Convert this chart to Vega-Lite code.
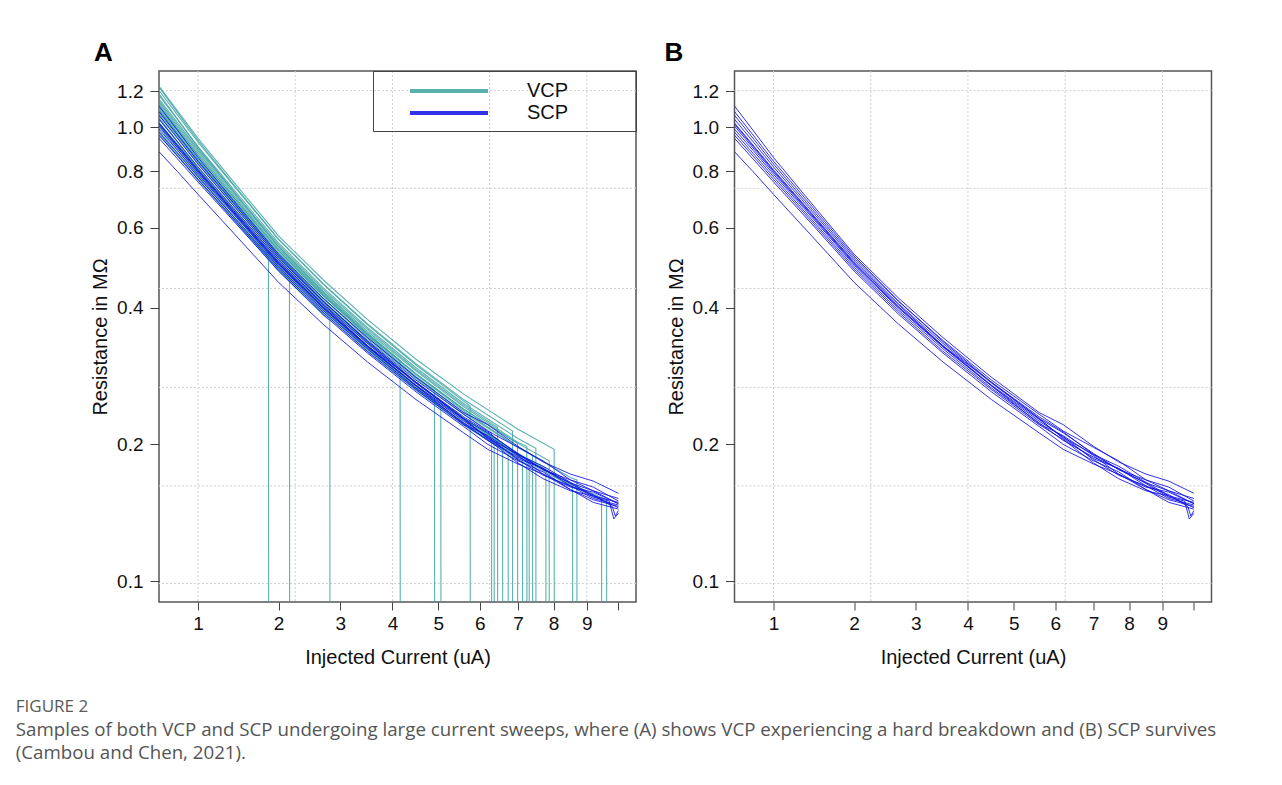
{
  "$schema": "https://vega.github.io/schema/vega-lite/v6.json",
  "background": "white",
  "padding": {"left": 15, "top": 38, "right": 5, "bottom": 5},
  "config": {
    "font": "Liberation Sans",
    "view": {"stroke": "#555", "strokeWidth": 1.5},
    "axis": {"labelFont": "Liberation Sans", "titleFont": "Liberation Sans", "labelFontSize": 19, "titleFontSize": 20, "titleFontWeight": "normal", "labelColor": "#111", "titleColor": "#111", "tickColor": "#444", "domain": false, "grid": false}
  },
  "datasets": {
    "gv": [{"I": 1}, {"I": 2.25}, {"I": 4}, {"I": 6.25}, {"I": 9}],
    "gh": [{"R": 0.0987}, {"R": 0.162}, {"R": 0.267}, {"R": 0.441}, {"R": 0.733}, {"R": 1.203}],
    "scp": [
      {"c":"S1","I":0.64,"R":1.112},{"c":"S1","I":0.8,"R":0.984},{"c":"S1","I":1,"R":0.857},{"c":"S1","I":1.4,"R":0.689},{"c":"S1","I":2,"R":0.525},{"c":"S1","I":2.7,"R":0.42},{"c":"S1","I":3.5,"R":0.344},{"c":"S1","I":4.5,"R":0.281},{"c":"S1","I":5.6,"R":0.235},{"c":"S1","I":6.2,"R":0.221},{"c":"S1","I":7,"R":0.198},{"c":"S1","I":7.7,"R":0.183},{"c":"S1","I":8.5,"R":0.172},{"c":"S1","I":9.2,"R":0.166},{"c":"S1","I":10,"R":0.156},
      {"c":"S2","I":0.64,"R":1.061},{"c":"S2","I":0.8,"R":0.945},{"c":"S2","I":1,"R":0.829},{"c":"S2","I":1.4,"R":0.671},{"c":"S2","I":2,"R":0.515},{"c":"S2","I":2.7,"R":0.413},{"c":"S2","I":3.5,"R":0.339},{"c":"S2","I":4.5,"R":0.277},{"c":"S2","I":5.6,"R":0.233},{"c":"S2","I":6.2,"R":0.214},{"c":"S2","I":7,"R":0.197},{"c":"S2","I":7.7,"R":0.184},{"c":"S2","I":8.5,"R":0.167},{"c":"S2","I":9.2,"R":0.158},{"c":"S2","I":10,"R":0.152},
      {"c":"S3","I":0.64,"R":1.02},{"c":"S3","I":0.8,"R":0.913},{"c":"S3","I":1,"R":0.805},{"c":"S3","I":1.4,"R":0.655},{"c":"S3","I":2,"R":0.505},{"c":"S3","I":2.7,"R":0.406},{"c":"S3","I":3.5,"R":0.33},{"c":"S3","I":4.5,"R":0.274},{"c":"S3","I":5.6,"R":0.23},{"c":"S3","I":6.2,"R":0.213},{"c":"S3","I":7,"R":0.19},{"c":"S3","I":7.7,"R":0.176},{"c":"S3","I":8.5,"R":0.167},{"c":"S3","I":9.2,"R":0.161},{"c":"S3","I":10,"R":0.15},
      {"c":"S4","I":0.64,"R":1.005},{"c":"S4","I":0.8,"R":0.9},{"c":"S4","I":1,"R":0.795},{"c":"S4","I":1.4,"R":0.648},{"c":"S4","I":2,"R":0.5},{"c":"S4","I":2.7,"R":0.401},{"c":"S4","I":3.5,"R":0.33},{"c":"S4","I":4.5,"R":0.27},{"c":"S4","I":5.6,"R":0.227},{"c":"S4","I":6.2,"R":0.207},{"c":"S4","I":7,"R":0.19},{"c":"S4","I":7.7,"R":0.179},{"c":"S4","I":8.5,"R":0.165},{"c":"S4","I":9.2,"R":0.154},{"c":"S4","I":10,"R":0.149},
      {"c":"S5","I":0.64,"R":0.989},{"c":"S5","I":0.8,"R":0.889},{"c":"S5","I":1,"R":0.787},{"c":"S5","I":1.4,"R":0.643},{"c":"S5","I":2,"R":0.497},{"c":"S5","I":2.7,"R":0.399},{"c":"S5","I":3.5,"R":0.328},{"c":"S5","I":4.5,"R":0.269},{"c":"S5","I":5.6,"R":0.222},{"c":"S5","I":6.2,"R":0.209},{"c":"S5","I":7,"R":0.189},{"c":"S5","I":7.7,"R":0.172},{"c":"S5","I":8.5,"R":0.161},{"c":"S5","I":9.2,"R":0.157},{"c":"S5","I":10,"R":0.148},
      {"c":"S6","I":0.64,"R":0.974},{"c":"S6","I":0.8,"R":0.876},{"c":"S6","I":1,"R":0.777},{"c":"S6","I":1.4,"R":0.635},{"c":"S6","I":2,"R":0.492},{"c":"S6","I":2.7,"R":0.395},{"c":"S6","I":3.5,"R":0.325},{"c":"S6","I":4.5,"R":0.266},{"c":"S6","I":5.6,"R":0.223},{"c":"S6","I":6.2,"R":0.204},{"c":"S6","I":7,"R":0.1875},{"c":"S6","I":7.7,"R":0.177},{"c":"S6","I":8.5,"R":0.162},{"c":"S6","I":9.2,"R":0.152},{"c":"S6","I":10,"R":0.147},
      {"c":"S7","I":0.64,"R":0.959},{"c":"S7","I":0.8,"R":0.864},{"c":"S7","I":1,"R":0.767},{"c":"S7","I":1.4,"R":0.628},{"c":"S7","I":2,"R":0.487},{"c":"S7","I":2.7,"R":0.391},{"c":"S7","I":3.5,"R":0.321},{"c":"S7","I":4.5,"R":0.264},{"c":"S7","I":5.6,"R":0.221},{"c":"S7","I":6.2,"R":0.205},{"c":"S7","I":7,"R":0.182},{"c":"S7","I":7.7,"R":0.168},{"c":"S7","I":8.5,"R":0.158},{"c":"S7","I":9.2,"R":0.154},{"c":"S7","I":10,"R":0.145},
      {"c":"S8","I":0.64,"R":0.944},{"c":"S8","I":0.8,"R":0.851},{"c":"S8","I":1,"R":0.757},{"c":"S8","I":1.4,"R":0.621},{"c":"S8","I":2,"R":0.482},{"c":"S8","I":2.7,"R":0.387},{"c":"S8","I":3.5,"R":0.318},{"c":"S8","I":4.5,"R":0.261},{"c":"S8","I":5.6,"R":0.219},{"c":"S8","I":6.2,"R":0.2},{"c":"S8","I":7,"R":0.184},{"c":"S8","I":7.7,"R":0.174},{"c":"S8","I":8.5,"R":0.159},{"c":"S8","I":9.2,"R":0.149},{"c":"S8","I":10,"R":0.144},
      {"c":"S9","I":0.64,"R":1.04},{"c":"S9","I":0.8,"R":0.929},{"c":"S9","I":1,"R":0.817},{"c":"S9","I":1.4,"R":0.663},{"c":"S9","I":2,"R":0.51},{"c":"S9","I":2.7,"R":0.408},{"c":"S9","I":3.5,"R":0.334},{"c":"S9","I":4.5,"R":0.273},{"c":"S9","I":5.6,"R":0.228},{"c":"S9","I":6.2,"R":0.212},{"c":"S9","I":7,"R":0.191},{"c":"S9","I":7.7,"R":0.176},{"c":"S9","I":8.5,"R":0.1645},{"c":"S9","I":9.2,"R":0.158},{"c":"S9","I":10,"R":0.148},
      {"c":"S10","I":0.64,"R":0.882},{"c":"S10","I":0.8,"R":0.798},{"c":"S10","I":1,"R":0.711},{"c":"S10","I":1.4,"R":0.584},{"c":"S10","I":2,"R":0.455},{"c":"S10","I":2.7,"R":0.368},{"c":"S10","I":3.5,"R":0.304},{"c":"S10","I":4.5,"R":0.251},{"c":"S10","I":5.6,"R":0.212},{"c":"S10","I":6.2,"R":0.195},{"c":"S10","I":7,"R":0.181},{"c":"S10","I":7.7,"R":0.172},{"c":"S10","I":8.5,"R":0.159},{"c":"S10","I":9.2,"R":0.151},{"c":"S10","I":10,"R":0.146},
      {"c":"S11","I":0.64,"R":1.015},{"c":"S11","I":0.8,"R":0.908},{"c":"S11","I":1,"R":0.801},{"c":"S11","I":1.4,"R":0.652},{"c":"S11","I":2,"R":0.502},{"c":"S11","I":2.7,"R":0.402},{"c":"S11","I":3.5,"R":0.329},{"c":"S11","I":4.5,"R":0.269},{"c":"S11","I":5.6,"R":0.225},{"c":"S11","I":6.2,"R":0.208},{"c":"S11","I":7,"R":0.185},{"c":"S11","I":7.7,"R":0.171},{"c":"S11","I":8.5,"R":0.162},{"c":"S11","I":9.2,"R":0.155},{"c":"S11","I":9.8,"R":0.146},{"c":"S11","I":9.9,"R":0.139},{"c":"S11","I":10,"R":0.143},
      {"c":"S12","I":0.64,"R":1.081},{"c":"S12","I":0.8,"R":0.961},{"c":"S12","I":1,"R":0.841},{"c":"S12","I":1.4,"R":0.68},{"c":"S12","I":2,"R":0.52},{"c":"S12","I":2.7,"R":0.414},{"c":"S12","I":3.5,"R":0.337},{"c":"S12","I":4.5,"R":0.274},{"c":"S12","I":5.6,"R":0.228},{"c":"S12","I":6.2,"R":0.206},{"c":"S12","I":7,"R":0.186},{"c":"S12","I":7.7,"R":0.177},{"c":"S12","I":8.5,"R":0.164},{"c":"S12","I":9.2,"R":0.153},{"c":"S12","I":9.7,"R":0.15},{"c":"S12","I":9.85,"R":0.137},{"c":"S12","I":10,"R":0.141}
    ],
    "vcp": [
      {"c":"V1","I":0.64,"R":1.0},{"c":"V1","I":0.8,"R":0.891},{"c":"V1","I":1,"R":0.783},{"c":"V1","I":1.4,"R":0.635},{"c":"V1","I":1.856,"R":0.517},{"c":"V1","I":1.859,"R":0.05},
      {"c":"V2","I":0.64,"R":1.051},{"c":"V2","I":0.8,"R":0.928},{"c":"V2","I":1,"R":0.807},{"c":"V2","I":1.4,"R":0.648},{"c":"V2","I":2,"R":0.492},{"c":"V2","I":2.162,"R":0.465},{"c":"V2","I":2.165,"R":0.05},
      {"c":"V3","I":0.64,"R":0.969},{"c":"V3","I":0.8,"R":0.868},{"c":"V3","I":1,"R":0.767},{"c":"V3","I":1.4,"R":0.625},{"c":"V3","I":2,"R":0.482},{"c":"V3","I":2.7,"R":0.386},{"c":"V3","I":2.815,"R":0.375},{"c":"V3","I":2.818,"R":0.05},
      {"c":"V4","I":0.64,"R":1.183},{"c":"V4","I":0.8,"R":1.041},{"c":"V4","I":1,"R":0.902},{"c":"V4","I":1.4,"R":0.721},{"c":"V4","I":2,"R":0.545},{"c":"V4","I":2.7,"R":0.433},{"c":"V4","I":3.5,"R":0.352},{"c":"V4","I":4.159,"R":0.306},{"c":"V4","I":4.163,"R":0.05},
      {"c":"V5","I":0.64,"R":1.122},{"c":"V5","I":0.8,"R":0.995},{"c":"V5","I":1,"R":0.869},{"c":"V5","I":1.4,"R":0.701},{"c":"V5","I":2,"R":0.535},{"c":"V5","I":2.7,"R":0.426},{"c":"V5","I":3.5,"R":0.347},{"c":"V5","I":4.5,"R":0.282},{"c":"V5","I":4.912,"R":0.263},{"c":"V5","I":4.916,"R":0.05},
      {"c":"V6","I":0.64,"R":1.02},{"c":"V6","I":0.8,"R":0.911},{"c":"V6","I":1,"R":0.801},{"c":"V6","I":1.4,"R":0.65},{"c":"V6","I":2,"R":0.5},{"c":"V6","I":2.7,"R":0.399},{"c":"V6","I":3.5,"R":0.326},{"c":"V6","I":4.5,"R":0.266},{"c":"V6","I":5.057,"R":0.242},{"c":"V6","I":5.061,"R":0.05},
      {"c":"V7","I":0.64,"R":1.224},{"c":"V7","I":0.8,"R":1.077},{"c":"V7","I":1,"R":0.934},{"c":"V7","I":1.4,"R":0.747},{"c":"V7","I":2,"R":0.566},{"c":"V7","I":2.7,"R":0.451},{"c":"V7","I":3.5,"R":0.367},{"c":"V7","I":4.5,"R":0.299},{"c":"V7","I":5.6,"R":0.249},{"c":"V7","I":5.758,"R":0.243},{"c":"V7","I":5.762,"R":0.05},
      {"c":"V8","I":0.64,"R":1.091},{"c":"V8","I":0.8,"R":0.97},{"c":"V8","I":1,"R":0.849},{"c":"V8","I":1.4,"R":0.686},{"c":"V8","I":2,"R":0.525},{"c":"V8","I":2.7,"R":0.419},{"c":"V8","I":3.5,"R":0.342},{"c":"V8","I":4.5,"R":0.279},{"c":"V8","I":5.6,"R":0.233},{"c":"V8","I":6.299,"R":0.212},{"c":"V8","I":6.303,"R":0.05},
      {"c":"V9","I":0.64,"R":1.01},{"c":"V9","I":0.8,"R":0.902},{"c":"V9","I":1,"R":0.793},{"c":"V9","I":1.4,"R":0.644},{"c":"V9","I":2,"R":0.495},{"c":"V9","I":2.7,"R":0.396},{"c":"V9","I":3.5,"R":0.324},{"c":"V9","I":4.5,"R":0.265},{"c":"V9","I":5.6,"R":0.221},{"c":"V9","I":6.366,"R":0.2},{"c":"V9","I":6.37,"R":0.05},
      {"c":"V10","I":0.64,"R":1.153},{"c":"V10","I":0.8,"R":1.023},{"c":"V10","I":1,"R":0.894},{"c":"V10","I":1.4,"R":0.721},{"c":"V10","I":2,"R":0.55},{"c":"V10","I":2.7,"R":0.439},{"c":"V10","I":3.5,"R":0.359},{"c":"V10","I":4.5,"R":0.292},{"c":"V10","I":5.6,"R":0.244},{"c":"V10","I":6.454,"R":0.218},{"c":"V10","I":6.458,"R":0.05},
      {"c":"V11","I":0.64,"R":1.071},{"c":"V11","I":0.8,"R":0.954},{"c":"V11","I":1,"R":0.837},{"c":"V11","I":1.4,"R":0.678},{"c":"V11","I":2,"R":0.52},{"c":"V11","I":2.7,"R":0.414},{"c":"V11","I":3.5,"R":0.337},{"c":"V11","I":4.5,"R":0.274},{"c":"V11","I":5.6,"R":0.228},{"c":"V11","I":6.586,"R":0.201},{"c":"V11","I":6.59,"R":0.05},
      {"c":"V12","I":0.64,"R":0.979},{"c":"V12","I":0.8,"R":0.879},{"c":"V12","I":1,"R":0.777},{"c":"V12","I":1.4,"R":0.634},{"c":"V12","I":2,"R":0.49},{"c":"V12","I":2.7,"R":0.394},{"c":"V12","I":3.5,"R":0.324},{"c":"V12","I":4.5,"R":0.266},{"c":"V12","I":5.6,"R":0.223},{"c":"V12","I":6.735,"R":0.193},{"c":"V12","I":6.739,"R":0.05},
      {"c":"V13","I":0.64,"R":1.204},{"c":"V13","I":0.8,"R":1.064},{"c":"V13","I":1,"R":0.926},{"c":"V13","I":1.4,"R":0.743},{"c":"V13","I":2,"R":0.566},{"c":"V13","I":2.7,"R":0.452},{"c":"V13","I":3.5,"R":0.369},{"c":"V13","I":4.5,"R":0.301},{"c":"V13","I":5.6,"R":0.251},{"c":"V13","I":6.852,"R":0.214},{"c":"V13","I":6.856,"R":0.05},
      {"c":"V14","I":0.64,"R":1.102},{"c":"V14","I":0.8,"R":0.979},{"c":"V14","I":1,"R":0.857},{"c":"V14","I":1.4,"R":0.693},{"c":"V14","I":2,"R":0.53},{"c":"V14","I":2.7,"R":0.425},{"c":"V14","I":3.5,"R":0.349},{"c":"V14","I":4.5,"R":0.286},{"c":"V14","I":5.6,"R":0.239},{"c":"V14","I":6.988,"R":0.201},{"c":"V14","I":6.992,"R":0.05},
      {"c":"V15","I":0.64,"R":1.04},{"c":"V15","I":0.8,"R":0.927},{"c":"V15","I":1,"R":0.813},{"c":"V15","I":1.4,"R":0.658},{"c":"V15","I":2,"R":0.505},{"c":"V15","I":2.7,"R":0.404},{"c":"V15","I":3.5,"R":0.33},{"c":"V15","I":4.5,"R":0.27},{"c":"V15","I":5.6,"R":0.226},{"c":"V15","I":7,"R":0.189},{"c":"V15","I":7.124,"R":0.187},{"c":"V15","I":7.128,"R":0.05},
      {"c":"V16","I":0.64,"R":1.142},{"c":"V16","I":0.8,"R":1.013},{"c":"V16","I":1,"R":0.886},{"c":"V16","I":1.4,"R":0.714},{"c":"V16","I":2,"R":0.545},{"c":"V16","I":2.7,"R":0.435},{"c":"V16","I":3.5,"R":0.355},{"c":"V16","I":4.5,"R":0.29},{"c":"V16","I":5.6,"R":0.242},{"c":"V16","I":7,"R":0.202},{"c":"V16","I":7.243,"R":0.198},{"c":"V16","I":7.247,"R":0.05},
      {"c":"V17","I":0.64,"R":0.959},{"c":"V17","I":0.8,"R":0.863},{"c":"V17","I":1,"R":0.765},{"c":"V17","I":1.4,"R":0.626},{"c":"V17","I":2,"R":0.485},{"c":"V17","I":2.7,"R":0.39},{"c":"V17","I":3.5,"R":0.32},{"c":"V17","I":4.5,"R":0.263},{"c":"V17","I":5.6,"R":0.221},{"c":"V17","I":7,"R":0.185},{"c":"V17","I":7.307,"R":0.18},{"c":"V17","I":7.311,"R":0.05},
      {"c":"V18","I":0.64,"R":1.081},{"c":"V18","I":0.8,"R":0.963},{"c":"V18","I":1,"R":0.845},{"c":"V18","I":1.4,"R":0.684},{"c":"V18","I":2,"R":0.525},{"c":"V18","I":2.7,"R":0.42},{"c":"V18","I":3.5,"R":0.344},{"c":"V18","I":4.5,"R":0.281},{"c":"V18","I":5.6,"R":0.235},{"c":"V18","I":7,"R":0.197},{"c":"V18","I":7.402,"R":0.189},{"c":"V18","I":7.406,"R":0.05},
      {"c":"V19","I":0.64,"R":1.173},{"c":"V19","I":0.8,"R":1.039},{"c":"V19","I":1,"R":0.906},{"c":"V19","I":1.4,"R":0.729},{"c":"V19","I":2,"R":0.556},{"c":"V19","I":2.7,"R":0.443},{"c":"V19","I":3.5,"R":0.362},{"c":"V19","I":4.5,"R":0.295},{"c":"V19","I":5.6,"R":0.246},{"c":"V19","I":7,"R":0.206},{"c":"V19","I":7.494,"R":0.196},{"c":"V19","I":7.498,"R":0.05},
      {"c":"V20","I":0.64,"R":1.02},{"c":"V20","I":0.8,"R":0.915},{"c":"V20","I":1,"R":0.809},{"c":"V20","I":1.4,"R":0.66},{"c":"V20","I":2,"R":0.51},{"c":"V20","I":2.7,"R":0.408},{"c":"V20","I":3.5,"R":0.334},{"c":"V20","I":4.5,"R":0.273},{"c":"V20","I":5.6,"R":0.228},{"c":"V20","I":7,"R":0.191},{"c":"V20","I":7.779,"R":0.177},{"c":"V20","I":7.783,"R":0.05},
      {"c":"V21","I":0.64,"R":1.112},{"c":"V21","I":0.8,"R":0.988},{"c":"V21","I":1,"R":0.865},{"c":"V21","I":1.4,"R":0.699},{"c":"V21","I":2,"R":0.535},{"c":"V21","I":2.7,"R":0.428},{"c":"V21","I":3.5,"R":0.35},{"c":"V21","I":4.5,"R":0.286},{"c":"V21","I":5.6,"R":0.239},{"c":"V21","I":7,"R":0.201},{"c":"V21","I":7.874,"R":0.184},{"c":"V21","I":7.878,"R":0.05},
      {"c":"V22","I":0.64,"R":1.229},{"c":"V22","I":0.8,"R":1.086},{"c":"V22","I":1,"R":0.944},{"c":"V22","I":1.4,"R":0.757},{"c":"V22","I":2,"R":0.576},{"c":"V22","I":2.7,"R":0.461},{"c":"V22","I":3.5,"R":0.377},{"c":"V22","I":4.5,"R":0.308},{"c":"V22","I":5.6,"R":0.258},{"c":"V22","I":7,"R":0.216},{"c":"V22","I":8.019,"R":0.195},{"c":"V22","I":8.023,"R":0.05},
      {"c":"V23","I":0.64,"R":1.061},{"c":"V23","I":0.8,"R":0.945},{"c":"V23","I":1,"R":0.829},{"c":"V23","I":1.4,"R":0.671},{"c":"V23","I":2,"R":0.515},{"c":"V23","I":2.7,"R":0.411},{"c":"V23","I":3.5,"R":0.335},{"c":"V23","I":4.5,"R":0.273},{"c":"V23","I":5.6,"R":0.228},{"c":"V23","I":7,"R":0.19},{"c":"V23","I":8.5,"R":0.163},{"c":"V23","I":8.564,"R":0.162},{"c":"V23","I":8.568,"R":0.05},
      {"c":"V24","I":0.64,"R":1.132},{"c":"V24","I":0.8,"R":1.004},{"c":"V24","I":1,"R":0.877},{"c":"V24","I":1.4,"R":0.707},{"c":"V24","I":2,"R":0.54},{"c":"V24","I":2.7,"R":0.43},{"c":"V24","I":3.5,"R":0.35},{"c":"V24","I":4.5,"R":0.285},{"c":"V24","I":5.6,"R":0.237},{"c":"V24","I":7,"R":0.197},{"c":"V24","I":8.5,"R":0.169},{"c":"V24","I":8.694,"R":0.167},{"c":"V24","I":8.698,"R":0.05},
      {"c":"V25","I":0.64,"R":1.02},{"c":"V25","I":0.8,"R":0.911},{"c":"V25","I":1,"R":0.801},{"c":"V25","I":1.4,"R":0.65},{"c":"V25","I":2,"R":0.5},{"c":"V25","I":2.7,"R":0.4},{"c":"V25","I":3.5,"R":0.327},{"c":"V25","I":4.5,"R":0.267},{"c":"V25","I":5.6,"R":0.223},{"c":"V25","I":7,"R":0.188},{"c":"V25","I":8.5,"R":0.162},{"c":"V25","I":9.459,"R":0.152},{"c":"V25","I":9.463,"R":0.05},
      {"c":"V26","I":0.64,"R":1.091},{"c":"V26","I":0.8,"R":0.968},{"c":"V26","I":1,"R":0.845},{"c":"V26","I":1.4,"R":0.681},{"c":"V26","I":2,"R":0.52},{"c":"V26","I":2.7,"R":0.414},{"c":"V26","I":3.5,"R":0.337},{"c":"V26","I":4.5,"R":0.274},{"c":"V26","I":5.6,"R":0.228},{"c":"V26","I":7,"R":0.19},{"c":"V26","I":8.5,"R":0.164},{"c":"V26","I":9.619,"R":0.151},{"c":"V26","I":9.623,"R":0.05}
    ]
  },
  "title": {
    "text": "FIGURE 2",
    "subtitle": ["Samples of both VCP and SCP undergoing large current sweeps, where (A) shows VCP experiencing a hard breakdown and (B) SCP survives", "(Cambou and Chen, 2021)."],
    "orient": "bottom", "anchor": "start", "dx": -74, "offset": 31,
    "font": "Open Sans", "fontSize": 17, "fontWeight": "normal", "color": "#5a5a5a",
    "subtitleFont": "Open Sans", "subtitleFontSize": 18.7, "subtitleColor": "#555", "subtitleLineHeight": 23, "subtitlePadding": 5
  },
  "bounds": "flush",
  "spacing": 98.5,
  "resolve": {"scale": {"color": "independent"}, "legend": {"color": "independent"}},
  "hconcat": [
    {
      "width": 477, "height": 531,
      "title": {"text": "A", "anchor": "start", "frame": "group", "dx": -65, "offset": -16, "fontSize": 26, "fontWeight": "bold", "font": "Liberation Sans", "color": "#000", "baseline": "alphabetic"},
      "layer": [
        {"data": {"name": "gv"}, "mark": {"type": "rule", "color": "#cfcfcf", "strokeDash": [2, 2], "strokeWidth": 1},
         "encoding": {"x": {"field": "I", "type": "quantitative", "scale": {"type": "sqrt", "domain": [0.639, 10.58], "nice": false, "zero": false},
           "axis": {"title": "Injected Current (uA)", "values": [1,2,3,4,5,6,7,8,9,10], "format": "d", "labelExpr": "datum.value == 10 ? '' : datum.label", "tickSize": 8, "labelPadding": 4, "titlePadding": 14, "labelFlush": false, "labelOverlap": false}}}},
        {"data": {"name": "gh"}, "mark": {"type": "rule", "color": "#cfcfcf", "strokeDash": [2, 2], "strokeWidth": 1},
         "encoding": {"y": {"field": "R", "type": "quantitative", "scale": {"type": "log", "domain": [0.0899, 1.329], "nice": false},
           "axis": {"title": "Resistance in MΩ", "values": [0.1,0.2,0.4,0.6,0.8,1.0,1.2], "format": ".1f", "tickSize": 9, "labelPadding": 7, "titlePadding": 6, "labelFlush": false, "labelOverlap": false}}}},
        {"data": {"name": "vcp"}, "mark": {"type": "line", "strokeWidth": 1.1, "opacity": 0.85, "clip": true},
         "encoding": {
           "x": {"field": "I", "type": "quantitative", "scale": {"type": "sqrt", "domain": [0.639, 10.58], "nice": false, "zero": false}},
           "y": {"field": "R", "type": "quantitative", "scale": {"type": "log", "domain": [0.0899, 1.329], "nice": false}},
           "detail": {"field": "c"},
           "color": {"datum": "VCP", "scale": {"domain": ["VCP", "SCP"], "range": ["#3fa3a3", "#0f0fe8"]},
             "legend": {"title": "MMM", "titleOrient": "right", "titleOpacity": 0, "titleFontSize": 20, "titlePadding": 10, "orient": "top-right", "offset": 0, "padding": 8, "symbolType": "M-4,0H4", "symbolSize": 380, "symbolStrokeWidth": 4, "symbolOpacity": 1, "labelFontSize": 20, "labelFont": "Liberation Sans", "labelColor": "#111", "labelOffset": 66, "symbolOffset": 56, "rowPadding": -5, "strokeColor": "#444"}}
         }},
        {"data": {"name": "scp"}, "mark": {"type": "line", "strokeWidth": 1, "opacity": 0.85, "clip": true},
         "encoding": {
           "x": {"field": "I", "type": "quantitative", "scale": {"type": "sqrt", "domain": [0.639, 10.58], "nice": false, "zero": false}},
           "y": {"field": "R", "type": "quantitative", "scale": {"type": "log", "domain": [0.0899, 1.329], "nice": false}},
           "detail": {"field": "c"},
           "color": {"datum": "SCP"}
         }}
      ]
    },
    {
      "width": 477, "height": 531,
      "title": {"text": "B", "anchor": "start", "frame": "group", "dx": -70, "offset": -16, "fontSize": 26, "fontWeight": "bold", "font": "Liberation Sans", "color": "#000", "baseline": "alphabetic"},
      "layer": [
        {"data": {"name": "gv"}, "mark": {"type": "rule", "color": "#cfcfcf", "strokeDash": [2, 2], "strokeWidth": 1},
         "encoding": {"x": {"field": "I", "type": "quantitative", "scale": {"type": "sqrt", "domain": [0.639, 10.58], "nice": false, "zero": false},
           "axis": {"title": "Injected Current (uA)", "values": [1,2,3,4,5,6,7,8,9,10], "format": "d", "labelExpr": "datum.value == 10 ? '' : datum.label", "tickSize": 8, "labelPadding": 4, "titlePadding": 14, "labelFlush": false, "labelOverlap": false}}}},
        {"data": {"name": "gh"}, "mark": {"type": "rule", "color": "#cfcfcf", "strokeDash": [2, 2], "strokeWidth": 1},
         "encoding": {"y": {"field": "R", "type": "quantitative", "scale": {"type": "log", "domain": [0.0899, 1.329], "nice": false},
           "axis": {"title": "Resistance in MΩ", "values": [0.1,0.2,0.4,0.6,0.8,1.0,1.2], "format": ".1f", "tickSize": 9, "labelPadding": 7, "titlePadding": 6, "labelFlush": false, "labelOverlap": false}}}},
        {"data": {"name": "scp"}, "mark": {"type": "line", "strokeWidth": 1, "opacity": 0.85, "clip": true, "color": "#0f0fe8"},
         "encoding": {
           "x": {"field": "I", "type": "quantitative", "scale": {"type": "sqrt", "domain": [0.639, 10.58], "nice": false, "zero": false}},
           "y": {"field": "R", "type": "quantitative", "scale": {"type": "log", "domain": [0.0899, 1.329], "nice": false}},
           "detail": {"field": "c"}
         }}
      ]
    }
  ]
}
